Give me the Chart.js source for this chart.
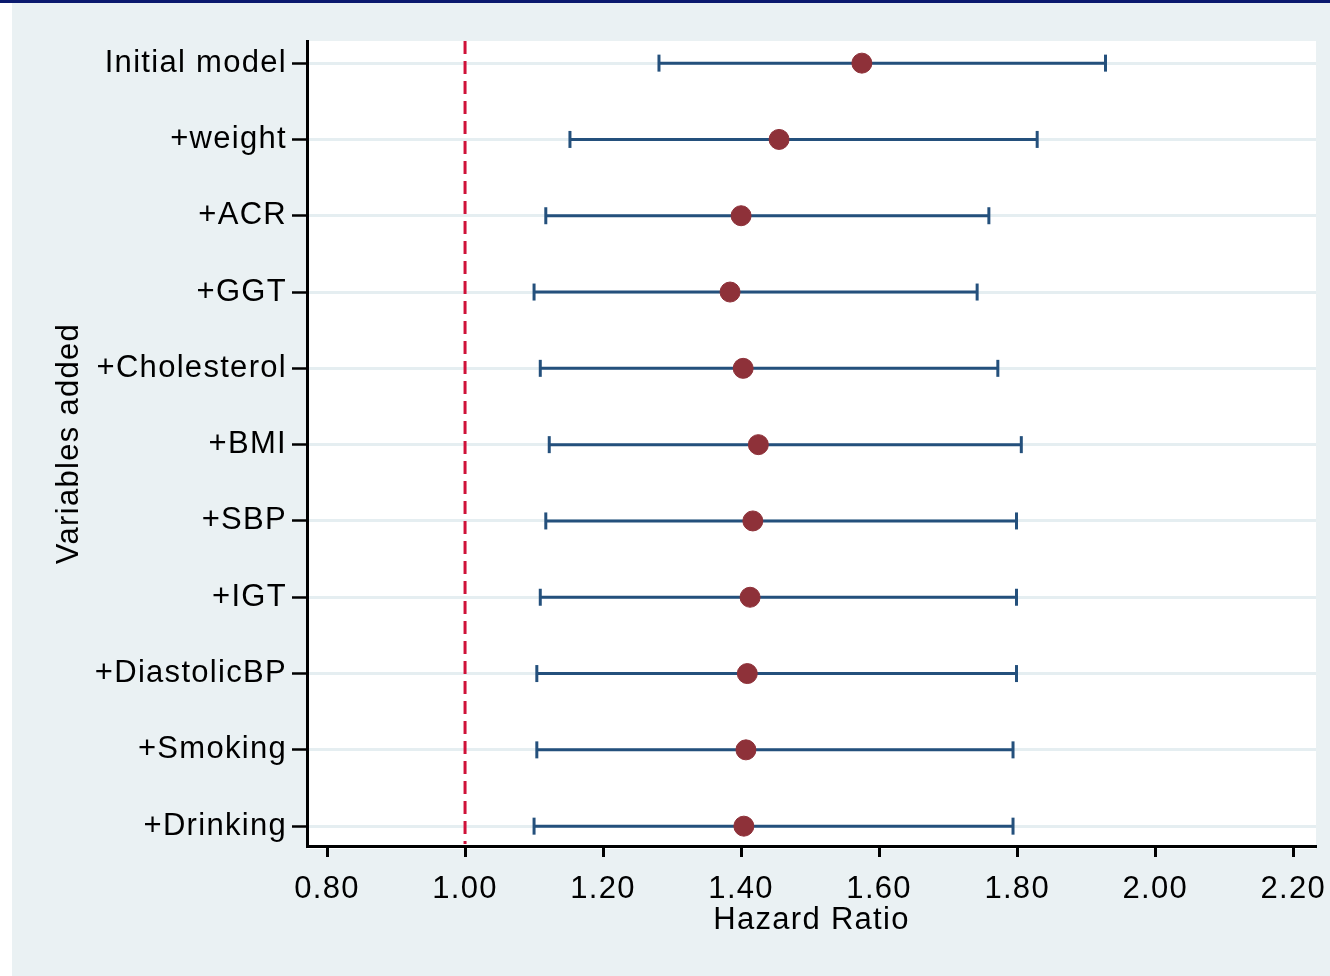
<!DOCTYPE html>
<html>
<head>
<meta charset="utf-8">
<script src="https://cdn.jsdelivr.net/npm/chart.js@4/dist/chart.umd.min.js"></script>
<style>
  html, body { margin: 0; padding: 0; background: #ffffff; }
  #wrap { width: 1330px; height: 976px; position: relative; }
</style>
</head>
<body>
<div id="wrap"><canvas id="hrChart" width="1330" height="976"></canvas></div>
<script>
// Variabili aggiunte al modello (dall'alto verso il basso)
const variables = ["Initial model", "+weight", "+ACR", "+GGT", "+Cholesterol", "+BMI",
                   "+SBP", "+IGT", "+DiastolicBP", "+Smoking", "+Drinking"];

// Hazard ratio e intervallo di confidenza
const hazardRatio = [1.575, 1.455, 1.400, 1.384, 1.403, 1.425, 1.417, 1.413, 1.409, 1.407, 1.404];
const ciLower     = [1.281, 1.152, 1.117, 1.100, 1.109, 1.122, 1.117, 1.109, 1.104, 1.104, 1.100];
const ciUpper     = [1.928, 1.829, 1.759, 1.742, 1.772, 1.806, 1.799, 1.799, 1.799, 1.794, 1.794];

const xTicks = [0.8, 1.0, 1.2, 1.4, 1.6, 1.8, 2.0, 2.2];
const refValue = 1.0;

const FONT = "'Liberation Sans', Arial, sans-serif";
const CI_COLOR = "#24507c";
const DOT_COLOR = "#8e3139";

document.addEventListener("DOMContentLoaded", function () {
    const canvas = document.getElementById("hrChart");
    if (!canvas) return;

    // testo un po' spaziato come nell'originale
    const spacing = {
        id: "spacing",
        beforeUpdate(chart) { chart.ctx.letterSpacing = "1.3px"; },
        beforeDraw(chart) { chart.ctx.letterSpacing = "1.3px"; }
    };

    // sfondo stile Stata
    const background = {
        id: "background",
        beforeDraw(chart) {
            const { ctx, width, height, chartArea } = chart;
            ctx.save();
            ctx.fillStyle = "#ffffff";
            ctx.fillRect(0, 0, width, height);
            ctx.fillStyle = "#eaf1f3";
            ctx.fillRect(12, 3, width - 12, height - 3);
            ctx.fillStyle = "#0b1a6e";
            ctx.fillRect(0, 0, width, 3);
            ctx.fillStyle = "#ffffff";
            ctx.fillRect(chartArea.left, chartArea.top,
                         chartArea.right - chartArea.left, chartArea.bottom - chartArea.top + 3);
            ctx.restore();
        }
    };

    // linea di riferimento HR = 1
    const refLine = {
        id: "refLine",
        beforeDatasetsDraw(chart) {
            const { ctx, chartArea, scales } = chart;
            const x = scales.x.getPixelForValue(refValue);
            ctx.save();
            ctx.strokeStyle = "#cf1239";
            ctx.lineWidth = 3;
            ctx.setLineDash([13, 7]);
            ctx.beginPath();
            ctx.moveTo(x, chartArea.top);
            ctx.lineTo(x, chartArea.bottom - 2);
            ctx.stroke();
            ctx.restore();
        }
    };

    const datasets = [{
        label: "HR",
        order: 0,
        data: variables.map((v, i) => ({ x: hazardRatio[i], y: i + 1 })),
        showLine: false,
        pointRadius: 10,
        pointBackgroundColor: DOT_COLOR,
        pointBorderColor: DOT_COLOR,
        pointBorderWidth: 1
    }];

    variables.forEach((v, i) => {
        datasets.push({
            label: v,
            order: 1,
            data: [{ x: ciLower[i], y: i + 1 }, { x: ciUpper[i], y: i + 1 }],
            showLine: true,
            borderColor: CI_COLOR,
            borderWidth: 3,
            pointStyle: "line",
            pointRotation: 90,
            pointRadius: 8.5,
            pointBorderWidth: 3,
            pointBorderColor: CI_COLOR
        });
    });

    new Chart(canvas, {
        type: "scatter",
        data: { datasets: datasets },
        options: {
            responsive: false,
            animation: false,
            events: [],
            layout: { padding: { left: 12, top: 41, right: 14, bottom: 0 } },
            plugins: { legend: { display: false }, tooltip: { enabled: false } },
            scales: {
                x: {
                    type: "linear",
                    min: 0.771,
                    max: 2.233,
                    afterBuildTicks(s) { s.ticks = xTicks.map(t => ({ value: t })); },
                    afterFit(s) { s.height = 130; s.paddingLeft = 0; s.paddingRight = 0; },
                    grid: {
                        drawOnChartArea: false,
                        tickColor: "#000000",
                        tickWidth: 3,
                        tickLength: 11
                    },
                    border: { color: "#000000", width: 3 },
                    ticks: {
                        color: "#000000",
                        font: { family: FONT, size: 31 },
                        padding: 14,
                        maxRotation: 0,
                        callback: v => v.toFixed(2)
                    },
                    title: {
                        display: true,
                        text: "Hazard Ratio",
                        color: "#000000",
                        font: { family: FONT, size: 31 },
                        padding: { top: 0, bottom: 37 }
                    }
                },
                y: {
                    type: "linear",
                    reverse: true,
                    min: 0.71,
                    max: 11.26,
                    afterBuildTicks(s) { s.ticks = variables.map((v, i) => ({ value: i + 1 })); },
                    afterFit(s) { s.width = 295; s.paddingTop = 0; s.paddingBottom = 0; },
                    grid: {
                        color: "#e5eef1",
                        lineWidth: 3,
                        tickColor: "#000000",
                        tickWidth: 2.5,
                        tickLength: 15
                    },
                    border: { color: "#000000", width: 3 },
                    ticks: {
                        color: "#000000",
                        font: { family: FONT, size: 31 },
                        padding: 5,
                        callback: v => variables[Math.round(v) - 1]
                    },
                    title: {
                        display: true,
                        text: "Variables added",
                        color: "#000000",
                        font: { family: FONT, size: 31 },
                        padding: { top: 39, bottom: 0 }
                    }
                }
            }
        },
        plugins: [spacing, background, refLine]
    });
});
</script>
</body>
</html>
